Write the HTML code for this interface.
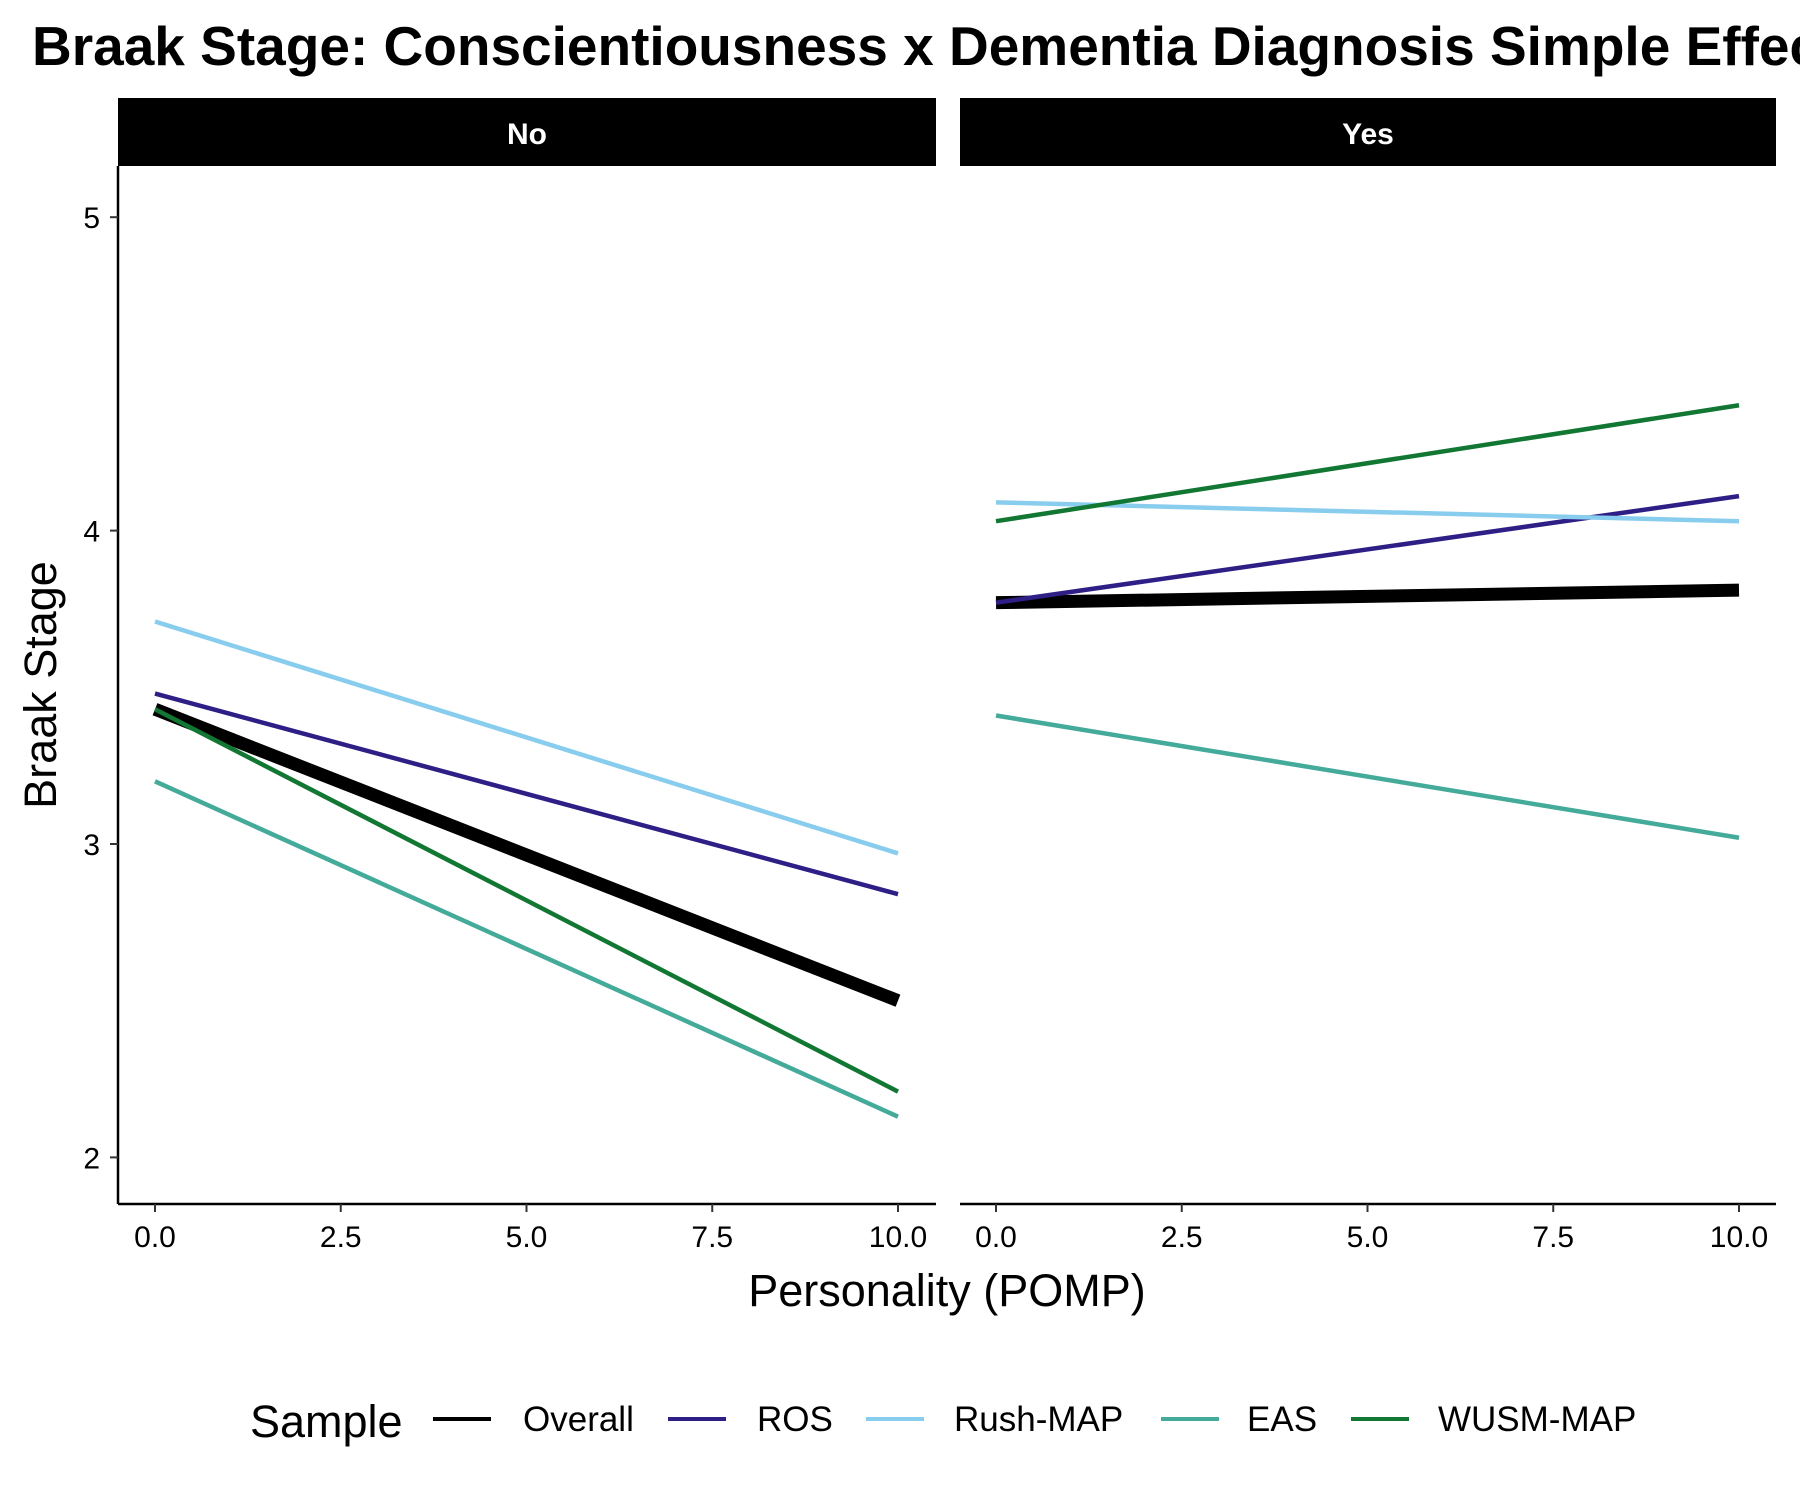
<!DOCTYPE html>
<html><head><meta charset="utf-8"><style>
body{margin:0;background:#fff}
svg text{font-family:"Liberation Sans",Arial,sans-serif}
</style></head><body>
<svg id="c" width="1800" height="1500" xmlns="http://www.w3.org/2000/svg">
<text x="32" y="65" font-size="55" font-weight="bold">Braak Stage: Conscientiousness x Dementia Diagnosis Simple Effects</text>
<g id="plot"></g>
</svg>
<script>
const panels = ["No", "Yes"];
const series = ["Overall", "ROS", "Rush-MAP", "EAS", "WUSM-MAP"];
const colors = ["#000000", "#2e1f86", "#88ccee", "#44aa99", "#117733"];
const xVals = [0, 10];
const noStart = [3.43, 3.48, 3.71, 3.20, 3.43];
const noEnd = [2.50, 2.84, 2.97, 2.13, 2.21];
const yesStart = [3.77, 3.77, 4.09, 3.41, 4.03];
const yesEnd = [3.81, 4.11, 4.03, 3.02, 4.40];
const xTicks = [0, 2.5, 5, 7.5, 10];
const xTickLabels = ["0.0", "2.5", "5.0", "7.5", "10.0"];
const yTicks = [2, 3, 4, 5];

const NS = "http://www.w3.org/2000/svg";
const g = document.getElementById("plot");
function mk(tag, attrs, parent){const e=document.createElementNS(NS,tag);for(const k in attrs)e.setAttribute(k,attrs[k]);(parent||g).appendChild(e);return e;}
const panelBox = [{l:118,r:936,x0:155,x1:898},{l:960,r:1776,x0:996,x1:1739}];
const pTop=166, pBottom=1204;
function yS(v){return 844-(v-3)*313.4;}
function xS(p,v){const b=panelBox[p];return b.x0+(v-xVals[0])/(xVals[1]-xVals[0])*(b.x1-b.x0);}
const data=[[noStart,noEnd],[yesStart,yesEnd]];

panels.forEach((pn,p)=>{
  const b=panelBox[p];
  let e=mk("rect",{x:b.l,y:98,width:b.r-b.l,height:pTop-98,fill:"#000"});
  
  
  e=mk("text",{x:(b.l+b.r)/2,y:144,"text-anchor":"middle","font-size":"30","font-weight":"bold",fill:"#fff"});
  e.textContent=pn;
  
  
  e=mk("line",{x1:b.l,x2:b.r,y1:pBottom,y2:pBottom,stroke:"#000","stroke-width":2.5});
  
  
  xTicks.forEach((t,i)=>{
    const xx=xS(p,t);
    let tk=mk("line",{x1:xx,x2:xx,y1:pBottom,y2:pBottom+8,stroke:"#333","stroke-width":2});
    
    
    tk=mk("text",{x:xx,y:pBottom+43,"text-anchor":"middle","font-size":"30",fill:"#000"});
    tk.textContent=xTickLabels[i];
    
    
  });
  series.forEach((s,i)=>{
    const ln=mk("line",{x1:xS(p,xVals[0]),y1:yS(data[p][0][i]),x2:xS(p,xVals[1]),y2:yS(data[p][1][i]),stroke:colors[i],"stroke-width":i===0?13:4.5});
    
    
  });
});
let e=mk("line",{x1:118,x2:118,y1:pTop,y2:pBottom,stroke:"#000","stroke-width":2.5});


yTicks.forEach(t=>{
  let tk=mk("line",{x1:110,x2:118,y1:yS(t),y2:yS(t),stroke:"#333","stroke-width":2});
  
  
  tk=mk("text",{x:100,y:yS(t)+11,"text-anchor":"end","font-size":"30",fill:"#000"});
  tk.textContent=t;
  
  
});
e=mk("text",{x:947,y:1306,"text-anchor":"middle","font-size":"45"});
e.textContent="Personality (POMP)";


e=mk("text",{x:56,y:685,"text-anchor":"middle","font-size":"45",transform:"rotate(-90 56 685)"});
e.textContent="Braak Stage";


e=mk("text",{x:250,y:1437,"font-size":"45"});
e.textContent="Sample";


const keyX=[433,668,866,1161,1351];
const labX=[523,757,954,1247,1438];
series.forEach((s,i)=>{
  let l=mk("line",{x1:keyX[i],x2:keyX[i]+58,y1:1419,y2:1419,stroke:colors[i],"stroke-width":4});
  
  
  l=mk("text",{x:labX[i],y:1431,"font-size":"35"});
  l.textContent=s;
  
  
});
</script>
</body></html>
